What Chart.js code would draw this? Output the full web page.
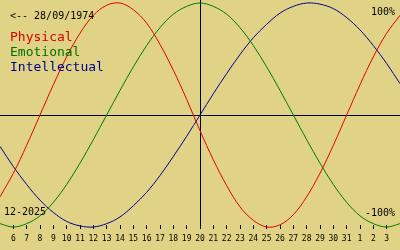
<!DOCTYPE html>
<html>
<head>
<meta charset="utf-8">
<script src="https://cdn.jsdelivr.net/npm/chart.js@4"></script>
<style>
  html, body { margin: 0; padding: 0; background: #e1d385; }
  #wrap { width: 400px; height: 250px; }
</style>
</head>
<body>
<div id="wrap"><canvas id="bioChart" width="400" height="250"></canvas></div>
<script>
// days shown, 5 Dec 2025 .. 4 Jan 2026 (first and last only pad the edges)
const days = ['5', '6', '7', '8', '9', '10', '11', '12', '13', '14', '15', '16', '17', '18', '19', '20',
  '21', '22', '23', '24', '25', '26', '27', '28', '29', '30', '31', '1', '2', '3', '4'];
const physical = [-0.73, -0.52, -0.27, 0.00, 0.27, 0.52, 0.73, 0.89, 0.98, 1.00, 0.94, 0.82, 0.63, 0.40, 0.14, -0.14,
  -0.40, -0.63, -0.82, -0.94, -1.00, -0.98, -0.89, -0.73, -0.52, -0.27, 0.00, 0.27, 0.52, 0.73, 0.89];
const emotional = [-0.97, -1.00, -0.97, -0.90, -0.78, -0.62, -0.43, -0.22, 0.00, 0.22, 0.43, 0.62, 0.78, 0.90, 0.97, 1.00,
  0.97, 0.90, 0.78, 0.62, 0.43, 0.22, 0.00, -0.22, -0.43, -0.62, -0.78, -0.90, -0.97, -1.00, -0.97];
const intellectual = [-0.28, -0.46, -0.62, -0.76, -0.87, -0.95, -0.99, -1.00, -0.97, -0.91, -0.81, -0.69, -0.54, -0.37, -0.19, 0.00,
  0.19, 0.37, 0.54, 0.69, 0.81, 0.91, 0.97, 1.00, 0.99, 0.95, 0.87, 0.76, 0.62, 0.46, 0.28];
const todayIndex = 15;
const birthLabel = '<-- 28/09/1974';
const monthLabel = '12-2025';
const seriesNames = ['Physical', 'Emotional', 'Intellectual'];
const lineColors = ['#e00000', '#007800', '#000098'];
const textColors = ['#d80000', '#007000', '#000090'];

const mono = '"DejaVu Sans Mono", "Liberation Mono", monospace';
const lastIndex = days.length - 1;

const overlay = {
  id: 'overlay',
  beforeDatasetsDraw(chart) {
    const ctx = chart.ctx;
    const x = chart.scales.x;
    const y = chart.scales.y;
    const y0 = Math.round(y.getPixelForValue(0)) + 0.5;
    const xt = Math.round(x.getPixelForValue(todayIndex)) + 0.5;
    ctx.save();
    ctx.strokeStyle = '#000';
    ctx.lineWidth = 1;
    ctx.beginPath();
    ctx.moveTo(0, y0);
    ctx.lineTo(chart.width, y0);
    ctx.moveTo(xt, 0);
    ctx.lineTo(xt, chart.chartArea.bottom + 4);
    ctx.stroke();
    ctx.restore();
  },
  afterDraw(chart) {
    const ctx = chart.ctx;
    ctx.save();
    ctx.textBaseline = 'middle';
    ctx.fillStyle = '#000';
    ctx.font = '10px ' + mono;
    ctx.textAlign = 'left';
    ctx.fillText(birthLabel, 10, 16);
    ctx.fillText(monthLabel, 4, 212);
    ctx.textAlign = 'right';
    ctx.fillText('100%', 395, 12);
    ctx.fillText('-100%', 395, 213);
    ctx.textAlign = 'left';
    ctx.font = '13px ' + mono;
    seriesNames.forEach((name, i) => {
      ctx.fillStyle = textColors[i];
      ctx.fillText(name, 10, 38 + i * 15);
    });
    ctx.restore();
  }
};

const edgeHidden = c => (c.index === 0 || c.index === lastIndex) ? 'rgba(0,0,0,0)' : '#000';

new Chart(document.getElementById('bioChart'), {
  type: 'line',
  data: {
    labels: days,
    datasets: [physical, emotional, intellectual].map((values, i) => ({
      label: seriesNames[i],
      data: values,
      borderColor: lineColors[i],
      borderWidth: 1,
      pointRadius: 0,
      tension: 0.35,
      clip: false
    }))
  },
  options: {
    responsive: false,
    animation: false,
    devicePixelRatio: 1,
    layout: { padding: { left: 0, right: 0, top: 0, bottom: 1.4 } },
    plugins: {
      legend: { display: false },
      tooltip: { enabled: false }
    },
    scales: {
      x: {
        offset: false,
        border: { display: false },
        afterFit: scale => {
          // the edge days carry no label, so let the curves run to the canvas edge
          scale.paddingLeft = 0;
          scale.paddingRight = 0;
        },
        grid: {
          drawOnChartArea: false,
          drawTicks: true,
          tickLength: 4,
          color: edgeHidden,
          tickColor: edgeHidden
        },
        ticks: {
          autoSkip: false,
          maxRotation: 0,
          padding: 5,
          color: '#000',
          font: { family: mono, size: 8 },
          callback: (v, i) => (i === 0 || i === lastIndex) ? '' : days[i]
        }
      },
      y: {
        display: false,
        min: -0.982,
        max: 1.027
      }
    }
  },
  plugins: [overlay]
});
</script>
</body>
</html>
